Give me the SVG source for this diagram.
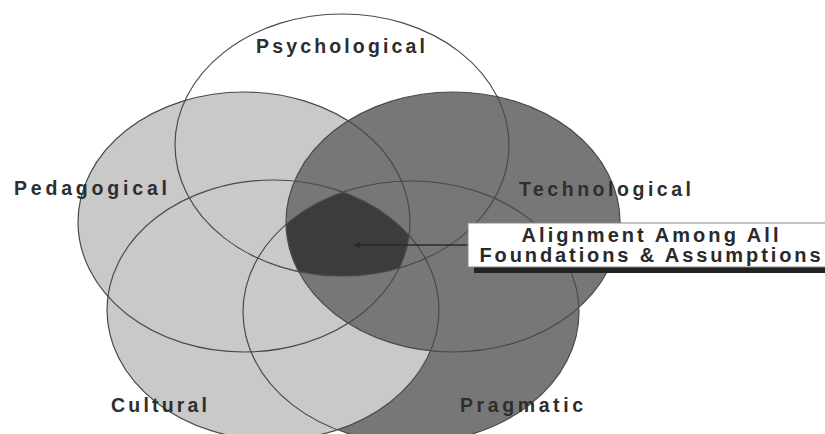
<svg xmlns="http://www.w3.org/2000/svg" width="825" height="434" viewBox="0 0 825 434">
  <style>
    .light { fill: #c9c9c9; }
    .dark { fill: #777777; }
    .outline { fill: none; stroke: #4a4a4a; stroke-width: 1.2; }
    .label { font-family: "Liberation Sans", Arial, sans-serif; font-weight: bold; font-size: 19.5px; fill: #2e2e2e; }
    .box-text { font-family: "Liberation Sans", Arial, sans-serif; font-weight: bold; font-size: 20px; fill: #2a2a2a; text-anchor: middle; }
  </style>
  <defs>
    <clipPath id="clip-psych"><ellipse cx="342" cy="145" rx="167" ry="131"/></clipPath>
    <clipPath id="clip-tech"><ellipse cx="453" cy="222" rx="167" ry="130"/></clipPath>
    <clipPath id="clip-cult"><ellipse cx="273" cy="310" rx="166" ry="130"/></clipPath>
    <clipPath id="clip-prag"><ellipse cx="411" cy="312" rx="168" ry="131"/></clipPath>
    <marker id="arrowhead" viewBox="0 0 10 10" refX="9" refY="5" markerWidth="7" markerHeight="7" orient="auto-start-reverse" markerUnits="userSpaceOnUse">
      <path d="M0,1 L10,5 L0,9 z" fill="#2a2a2a"/>
    </marker>
  </defs>
  <rect width="825" height="434" fill="#ffffff"/>

  <g id="fills">
    <ellipse class="dark" cx="411" cy="312" rx="168" ry="131"/>
    <ellipse class="light" cx="273" cy="310" rx="166" ry="130"/>
    <ellipse class="light" cx="244" cy="222" rx="166" ry="130"/>
    <ellipse class="dark" cx="453" cy="222" rx="167" ry="130"/>
    <g clip-path="url(#clip-psych)">
      <g clip-path="url(#clip-tech)">
        <g clip-path="url(#clip-cult)">
          <g clip-path="url(#clip-prag)">
            <ellipse cx="244" cy="222" rx="166" ry="130" fill="#3c3c3c"/>
          </g>
        </g>
      </g>
    </g>
  </g>

  <g id="psychological">
    <ellipse class="outline" cx="342" cy="145" rx="167" ry="131"/>
    <text class="label" x="256" y="53" textLength="169" lengthAdjust="spacing">Psychological</text>
  </g>
  <g id="pedagogical">
    <ellipse class="outline" cx="244" cy="222" rx="166" ry="130"/>
    <text class="label" x="14" y="195" textLength="153" lengthAdjust="spacing">Pedagogical</text>
  </g>
  <g id="technological">
    <ellipse class="outline" cx="453" cy="222" rx="167" ry="130"/>
    <text class="label" x="519" y="196" textLength="172" lengthAdjust="spacing">Technological</text>
  </g>
  <g id="cultural">
    <ellipse class="outline" cx="273" cy="310" rx="166" ry="130"/>
    <text class="label" x="111" y="412" textLength="96" lengthAdjust="spacing">Cultural</text>
  </g>
  <g id="pragmatic">
    <ellipse class="outline" cx="411" cy="312" rx="168" ry="131"/>
    <text class="label" x="460" y="412" textLength="123" lengthAdjust="spacing">Pragmatic</text>
  </g>

  <g id="connectors">
    <line x1="468" y1="245" x2="354" y2="245" stroke="#2a2a2a" stroke-width="1.5" marker-end="url(#arrowhead)"/>
  </g>

  <g id="alignment-label">
    <rect x="474" y="266" width="360" height="7" fill="#222222"/>
    <rect x="468" y="223" width="365" height="44" fill="#ffffff" stroke="#8a8a8a" stroke-width="1"/>
    <text class="box-text" x="650" y="242" textLength="257" lengthAdjust="spacing">Alignment Among All</text>
    <text class="box-text" x="650" y="262" textLength="341" lengthAdjust="spacing">Foundations &amp; Assumptions</text>
  </g>
</svg>
